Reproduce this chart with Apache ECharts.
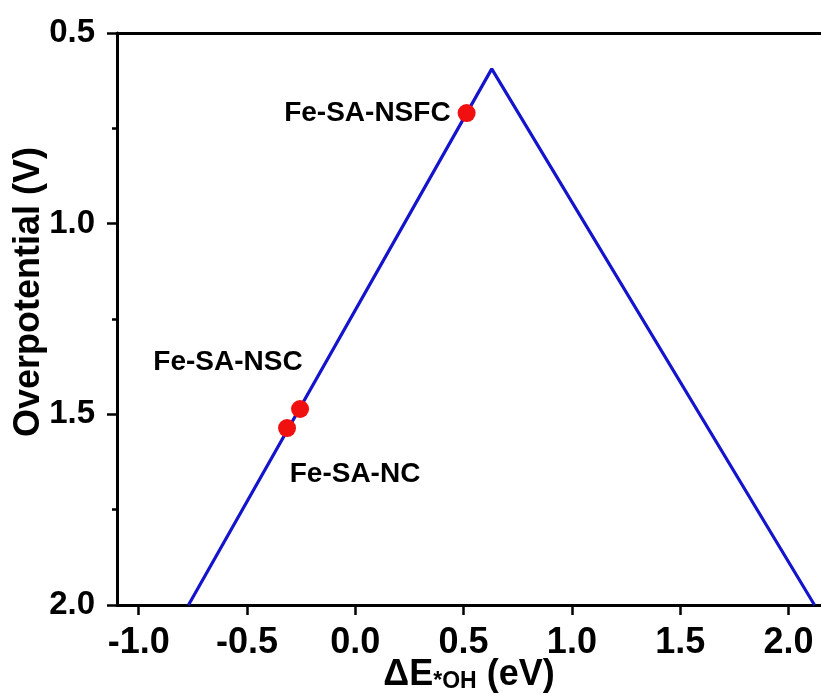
<!DOCTYPE html>
<html>
<head>
<meta charset="utf-8">
<script src="https://cdn.jsdelivr.net/npm/echarts@6/dist/echarts.min.js"></script>
<style>
  html, body { margin: 0; padding: 0; background: #fff; }
  #chart { width: 821px; height: 699px; }
</style>
</head>
<body>
<div id="chart"></div>
<script>
// Volcano plot: limiting overpotential vs. *OH adsorption energy
const volcanoX = [-0.77, 0.63, 2.12];
const volcanoY = [2.0, 0.594, 2.0];

const catalystNames = ['Fe-SA-NSFC', 'Fe-SA-NSC', 'Fe-SA-NC'];
const catalystX = [0.514, -0.255, -0.315];
const catalystY = [0.71, 1.486, 1.536];

const xTicks = [-1.0, -0.5, 0.0, 0.5, 1.0, 1.5, 2.0];

const FONT = '"Liberation Sans", Arial, sans-serif';
const AXIS_COLOR = '#000';

const labelLayout = {
  'Fe-SA-NSFC': { position: 'left', distance: 7 },
  'Fe-SA-NSC': { position: 'inside', offset: [-72, -47] },
  'Fe-SA-NC': { position: 'inside', offset: [68, 46] }
};

const chart = echarts.init(document.getElementById('chart'), null, { renderer: 'canvas' });

chart.setOption({
  animation: false,
  backgroundColor: '#fff',
  grid: {
    left: 117, right: 0, top: 33, bottom: 94,
    containLabel: false,
    outerBoundsMode: 'none'
  },
  xAxis: [
    {
      type: 'value',
      min: -1.1,
      max: 2.15,
      position: 'bottom',
      name: '{a|ΔE}{b|*OH}{a| (eV)}',
      nameLocation: 'middle',
      nameGap: 52,
      nameMoveOverlap: false,
      nameTextStyle: {
        rich: {
          a: { fontFamily: FONT, fontWeight: 'bold', fontSize: 36, color: '#000' },
          b: { fontFamily: FONT, fontWeight: 'bold', fontSize: 23, color: '#000', verticalAlign: 'bottom', padding: [8, 0, 0, 0] }
        }
      },
      splitLine: { show: false },
      axisLine: { show: true, onZero: false, lineStyle: { color: AXIS_COLOR, width: 3 } },
      axisTick: { show: true, length: 10, lineStyle: { width: 2.5, color: AXIS_COLOR }, customValues: xTicks },
      axisLabel: {
        customValues: xTicks,
        margin: 20,
        fontFamily: FONT, fontWeight: 'bold', fontSize: 36, color: '#000',
        formatter: v => v.toFixed(1)
      }
    },
    {
      type: 'value',
      min: -1.1,
      max: 2.15,
      position: 'top',
      splitLine: { show: false },
      axisLine: { show: true, onZero: false, lineStyle: { color: AXIS_COLOR, width: 3 } },
      axisTick: { show: false },
      axisLabel: { show: false }
    }
  ],
  yAxis: {
    type: 'value',
    inverse: true,
    min: 0.5,
    max: 2.0,
    interval: 0.5,
    name: 'Overpotential (V)',
    nameLocation: 'middle',
    nameRotate: 90,
    nameGap: 70,
    nameMoveOverlap: false,
    nameTextStyle: { fontFamily: FONT, fontWeight: 'bold', fontSize: 36, color: '#000', padding: [0, 0, 0, 54] },
    splitLine: { show: false },
    axisLine: { show: true, onZero: false, lineStyle: { color: AXIS_COLOR, width: 3 } },
    axisTick: { show: true, length: 10, lineStyle: { width: 2.5, color: AXIS_COLOR } },
    minorTick: { show: true, splitNumber: 2, length: 5, lineStyle: { width: 2.5, color: AXIS_COLOR } },
    minorSplitLine: { show: false },
    axisLabel: {
      margin: 22,
      fontFamily: FONT, fontWeight: 'bold', fontSize: 33, color: '#000',
      formatter: v => v.toFixed(1)
    }
  },
  series: [
    {
      type: 'line',
      data: volcanoX.map((x, i) => [x, volcanoY[i]]),
      showSymbol: false,
      symbol: 'none',
      clip: true,
      lineStyle: { color: '#1414cc', width: 3.2 },
      z: 2
    },
    {
      type: 'scatter',
      symbol: 'circle',
      symbolSize: 18,
      itemStyle: { color: '#f01010', opacity: 1 },
      z: 3,
      data: catalystNames.map((name, i) => ({
        name,
        value: [catalystX[i], catalystY[i]],
        label: Object.assign({
          show: true,
          formatter: '{b}',
          fontFamily: FONT,
          fontWeight: 'bold',
          fontSize: 28,
          color: '#000',
          opacity: 1,
          textBorderWidth: 0
        }, labelLayout[name])
      }))
    }
  ]
});
</script>
</body>
</html>
